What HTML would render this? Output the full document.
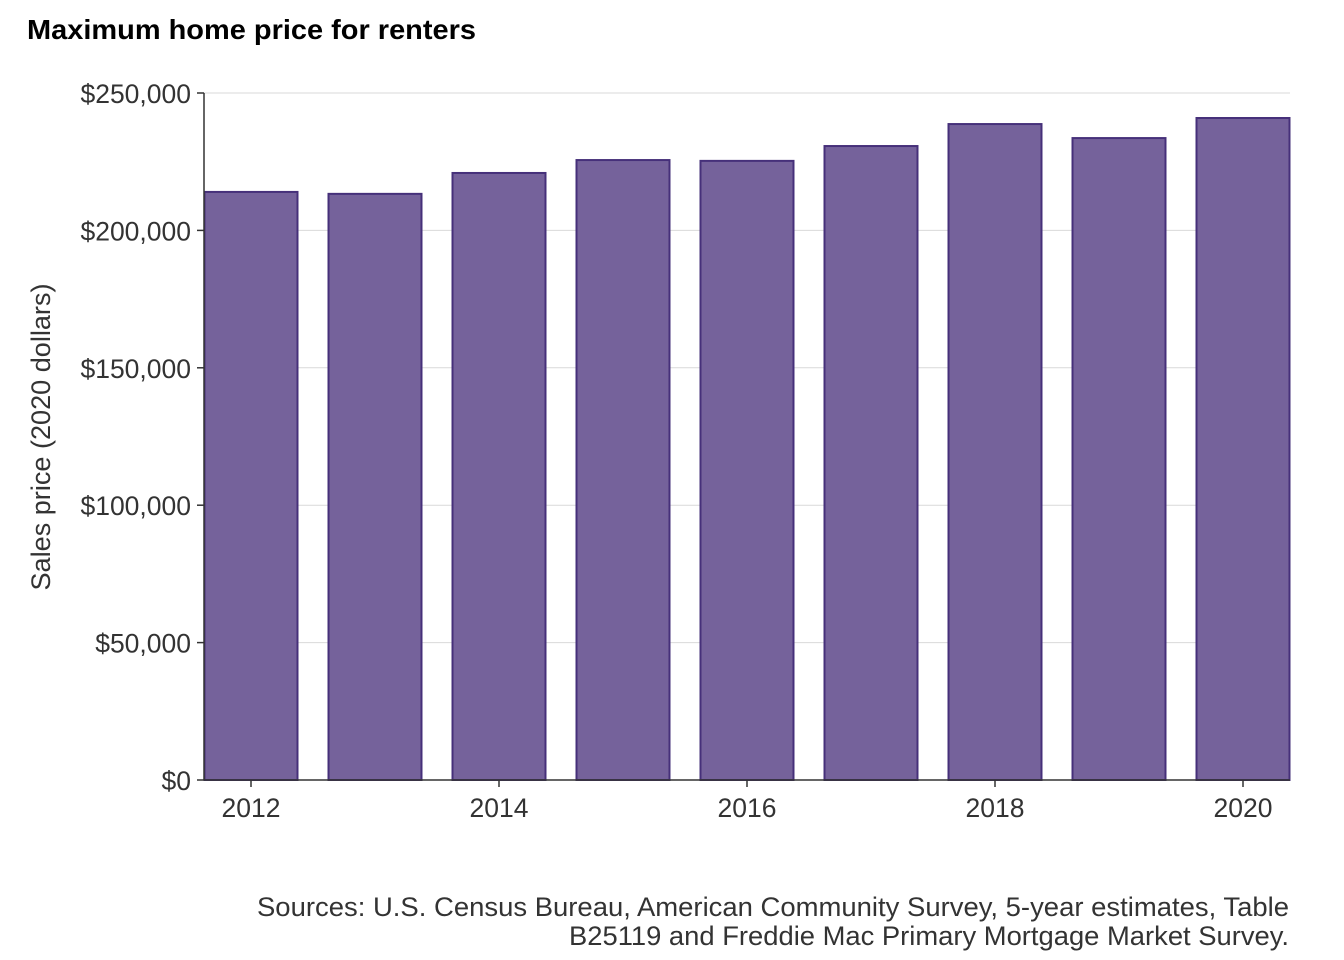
<!DOCTYPE html>
<html><head><meta charset="utf-8"><style>
body{margin:0;background:#fff;}
svg{display:block;font-family:"Liberation Sans",Arial,sans-serif;}
</style></head><body>
<svg id="chart" width="1344" height="960">
<text x="27" y="39" font-size="28" font-weight="bold" fill="#000" textLength="449" lengthAdjust="spacingAndGlyphs">Maximum home price for renters</text>
<g id="grid"></g>
<g id="bars"></g>
<g id="axes"></g>
<text transform="translate(50,437) rotate(-90)" text-anchor="middle" font-size="27" fill="#333" textLength="307" lengthAdjust="spacingAndGlyphs">Sales price (2020 dollars)</text>
<text x="1289" y="916" text-anchor="end" font-size="27" fill="#333" textLength="1032" lengthAdjust="spacingAndGlyphs">Sources: U.S. Census Bureau, American Community Survey, 5-year estimates, Table</text>
<text x="1289" y="945" text-anchor="end" font-size="27" fill="#333" textLength="720" lengthAdjust="spacingAndGlyphs">B25119 and Freddie Mac Primary Mortgage Market Survey.</text>
</svg>
<script>
const years = [2012,2013,2014,2015,2016,2017,2018,2019,2020];
const values = [214000,213300,220900,225600,225300,230700,238700,233600,240900];
const yTicks = [0,50000,100000,150000,200000,250000];
const yTickLabels = ["$0","$50,000","$100,000","$150,000","$200,000","$250,000"];
const xTicks = [2012,2014,2016,2018,2020];

const NS="http://www.w3.org/2000/svg";
const x0=204,x1=1290,yTop=93,yBot=780;
const yS=v=>yBot-(v/250000)*(yBot-yTop);
const step=124, bw=93;
const xS=yr=>251+(yr-2012)*step;
function mk(tag,attrs,parent){const e=document.createElementNS(NS,tag);for(const k in attrs)e.setAttribute(k,attrs[k]);parent.appendChild(e);return e;}
const grid=document.getElementById('grid'),bars=document.getElementById('bars'),axes=document.getElementById('axes');
yTicks.forEach((t,i)=>{
  const g=mk('line',{x1:x0,x2:x1,y1:yS(t),y2:yS(t),stroke:'#d9d9d9','stroke-width':1},grid);
  
  
  mk('line',{x1:197,x2:x0,y1:yS(t),y2:yS(t),stroke:'#333','stroke-width':1.5},axes);
  const tx=mk('text',{x:191,y:yS(t)+10,'text-anchor':'end','font-size':26.5,fill:'#333'},axes);
  tx.textContent=yTickLabels[i];
  
  
});
years.forEach((yr,i)=>{
  const r=mk('rect',{x:xS(yr)-bw/2,y:yS(values[i]),width:bw,height:yBot-yS(values[i]),fill:'#75629b',stroke:'#46307a','stroke-width':2},bars);
  
  
});
mk('line',{x1:x0,x2:x0,y1:yTop,y2:yBot,stroke:'#333','stroke-width':1.5},axes);
mk('line',{x1:x0,x2:x1,y1:yBot,y2:yBot,stroke:'#333','stroke-width':1.5},axes);
xTicks.forEach(t=>{
  mk('line',{x1:xS(t),x2:xS(t),y1:yBot,y2:yBot+7,stroke:'#333','stroke-width':1.5},axes);
  const tx=mk('text',{x:xS(t),y:817,'text-anchor':'middle','font-size':26.5,fill:'#333'},axes);
  tx.textContent=t;
  
  
});
</script>
</body></html>
